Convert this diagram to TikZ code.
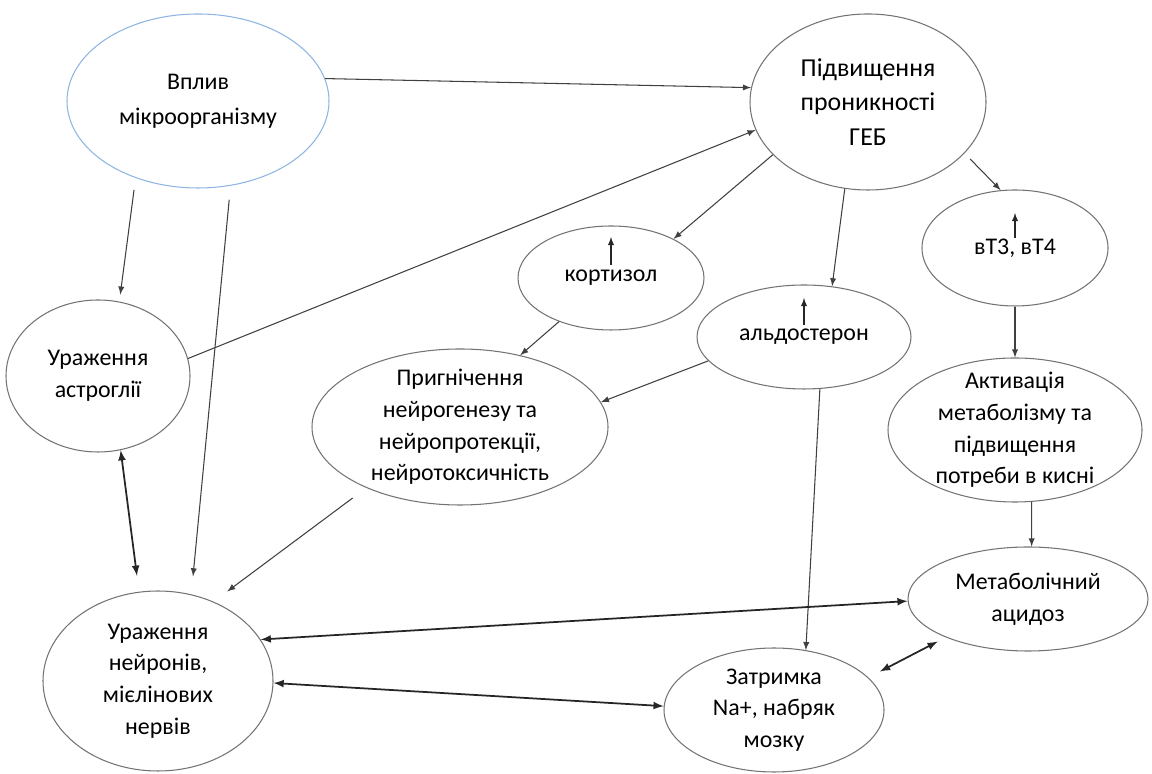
\documentclass[tikz,border=0pt]{standalone}
\usepackage{fontspec}
\setmainfont{Carlito}
\usetikzlibrary{arrows, shapes, calc, positioning}
\definecolor{vplyvblue}{RGB}{141,180,226}

\begin{document}
\begin{tikzpicture}[
  bubble/.style={ellipse, draw=black!55, line width=0.6pt, inner sep=0pt},
  txt/.style={align=center, inner sep=0pt, text=black, font=\fontsize{13.6pt}{18.1pt}\selectfont},
  bigtxt/.style={txt, font=\fontsize{14.7pt}{19.8pt}\selectfont},
  link/.style={-latex, draw=black!75, line width=0.6pt},
  twoway/.style={latex-latex, draw=black!85, line width=1pt},
  uparrow/.style={-latex, draw=black!85, line width=0.6pt}
]
\useasboundingbox (0,0) rectangle (23.04,15.48);

\node[bubble, draw=vplyvblue, minimum width=5.24cm, minimum height=3.48cm,
  label={[txt, font=\fontsize{13.6pt}{19.8pt}\selectfont]center:{Вплив\\мікроорганізму}}] (vplyv) at (3.96,13.46) {};
\node[bubble, minimum width=4.72cm, minimum height=3.52cm,
  label={[bigtxt]center:{Підвищення\\проникності\\ГЕБ}}] (geb) at (17.36,13.44) {};
\node[bubble, minimum width=3.68cm, minimum height=3.04cm,
  label={[txt]center:{Ураження\\астроглії}}] (astro) at (1.96,7.96) {};
\node[bubble, minimum width=3.72cm, minimum height=2.08cm,
  label={[txt]center:{кортизол}}] (kort) at (12.22,9.92) {};
\node[bubble, minimum width=4.28cm, minimum height=2.08cm,
  label={[txt]center:{альдостерон}}] (aldo) at (16.08,8.74) {};
\node[bubble, minimum width=3.72cm, minimum height=2.32cm,
  label={[txt]center:{вТ3, вТ4}}] (t3t4) at (20.30,10.52) {};
\node[bubble, minimum width=5.92cm, minimum height=3.12cm,
  label={[txt]center:{Пригнічення\\нейрогенезу та\\нейропротекції,\\нейротоксичність}}] (pryg) at (9.20,6.94) {};
\node[bubble, minimum width=5.08cm, minimum height=2.88cm,
  label={[txt]center:{Активація\\метаболізму та\\підвищення\\потреби в кисні}}] (aktyv) at (20.30,6.88) {};
\node[bubble, minimum width=4.80cm, minimum height=2.08cm,
  label={[txt]center:{Метаболічний\\ацидоз}}] (metab) at (20.56,3.50) {};
\node[bubble, minimum width=4.40cm, minimum height=2.48cm,
  label={[txt]center:{Затримка\\Na+, набряк\\мозку}}] (zatr) at (15.48,1.28) {};
\node[bubble, minimum width=4.60cm, minimum height=3.60cm,
  label={[txt]center:{Ураження\\нейронів,\\мієлінових\\нервів}}] (neur) at (3.16,1.86) {};

% small arrows over the hormone names
\draw[uparrow] ([yshift=0.26cm]kort.center) -- ++(0,0.56);
\draw[uparrow] ([yshift=0.24cm]aldo.center) -- ++(0,0.54);
\draw[uparrow] ([yshift=0.20cm]t3t4.center) -- ++(0,0.50);

\draw[link] (vplyv.10) -- (geb.173);
\draw[link] (astro.11) -- (geb.194);
\draw[link, shorten <=0.24cm, shorten >=0.14cm] (vplyv.231) -- (astro.74);
\draw[link, shorten <=0.28cm, shorten >=0.36cm] (vplyv.291) -- (neur.69);
\draw[link, shorten <=0.34cm, shorten >=0.34cm] (pryg.213) -- (neur.55);
\draw[link] (kort.220) -- (pryg.50);
\draw[link] (aldo.194) -- (pryg.10);
\draw[link] (geb.209) -- (kort.32);
\draw[link] (geb.255) -- (aldo.61);
\draw[link, shorten <=0.16cm] (geb.332) -- (t3t4.104);
\draw[link] (t3t4.south) -- (aktyv.north);
\draw[link] (aktyv.283) -- (metab.86);
\draw[link] (aldo.287) -- (zatr.62);

\draw[twoway, shorten >=0.32cm] (astro.287) -- (neur.102);
\draw[twoway] (neur.22) -- (metab.181);
\draw[twoway] (neur.359) -- (zatr.178);
\draw[twoway, shorten <=0.26cm, shorten >=0.18cm] (zatr.19) -- (metab.205);
\end{tikzpicture}
\end{document}
